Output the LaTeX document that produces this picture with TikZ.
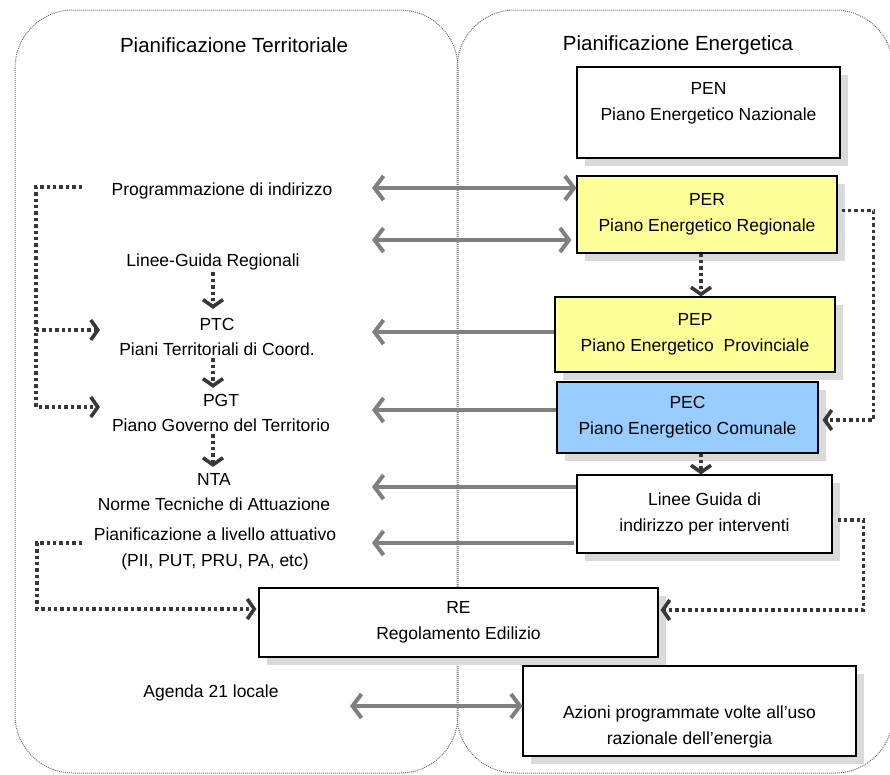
\documentclass[tikz,border=0pt]{standalone}
\usepackage{fontspec}
\setmainfont{Liberation Sans}
\usetikzlibrary{positioning,arrows.meta,calc,shadows}
\definecolor{planyellow}{HTML}{FFFF99}
\definecolor{planblue}{HTML}{99CCFF}
\definecolor{arrgray}{HTML}{808080}
\definecolor{dotgray}{HTML}{383838}
\definecolor{shadowgray}{HTML}{DADADA}
\definecolor{panelgray}{HTML}{6E6E6E}
\tikzset{
  panel/.style={
    draw=panelgray, dash pattern=on 1pt off 1pt, line width=1pt, rounded corners=58pt
  },
  paneltitle/.style={
    font=\fontsize{20.5}{24}\selectfont
  },
  lbl/.style={
    align=center, inner sep=2pt, font=\fontsize{17.5}{25.5}\selectfont
  },
  planbox/.style={
    draw=black, line width=1.1pt, fill=white, align=center,
    font=\fontsize{17.5}{26}\selectfont,
    general shadow={fill=shadowgray, shadow xshift=8pt, shadow yshift=-8pt}
  },
  flowarr/.style={
    draw=arrgray, line width=4pt, >={Straight Barb[length=9pt,width=24pt]}
  },
  dotarr/.style={
    draw=dotgray, line width=3.6pt, dash pattern=on 3.4pt off 3pt,
    -{Straight Barb[length=7pt,width=20pt]}
  }
}

\begin{document}
\begin{tikzpicture}[x=1pt,y=-1pt]
\useasboundingbox (0,0) rectangle (890,774);

% two planning areas
\draw[panel] (15,10) rectangle (458,773);
\draw[panel] (457,10) rectangle (893,773);
\node[paneltitle] (tterr) at (234,45) {Pianificazione Territoriale};
\node[paneltitle] (tener) at (678,45) {Pianificazione Energetica};

% territorial side
\node[lbl] (prog) at (222,191) {Programmazione di indirizzo};
\node[lbl] (lgr) at (213,262) {Linee-Guida Regionali};
\node[lbl] (ptc) at (217,337) {PTC\\Piani Territoriali di Coord.};
\node[lbl] (pgt) at (221,413) {PGT\\Piano Governo del Territorio};
\node[lbl] (nta) at (214,492) {NTA\\Norme Tecniche di Attuazione};
\node[lbl] (attu) at (215,549) {Pianificazione a livello attuativo\\(PII, PUT, PRU, PA, etc)};
\node[lbl] (agenda) at (211,693) {Agenda 21 locale};

% energy side
\node[planbox, minimum width=263pt, minimum height=91pt] (pen) at (708.5,112.5)
  {PEN\\Piano Energetico Nazionale\\[-12pt] \strut};
\node[planbox, fill=planyellow, minimum width=260pt, minimum height=77pt] (per) at (707,214.5)
  {PER\\Piano Energetico Regionale};
\node[planbox, fill=planyellow, minimum width=280pt, minimum height=75pt] (pep) at (695,334.5)
  {PEP\\Piano Energetico\ \ Provinciale};
\node[planbox, fill=planblue, minimum width=261pt, minimum height=71pt] (pec) at (687.5,417.5)
  {PEC\\Piano Energetico Comunale};
\node[planbox, minimum width=255pt, minimum height=78pt] (lgi) at (704.5,514)
  {Linee Guida di\\indirizzo per interventi};
\node[planbox, minimum width=399pt, minimum height=69pt] (re) at (458.5,622.5)
  {RE\\Regolamento Edilizio};
\node[planbox, minimum width=333pt, minimum height=90pt] (azi) at (689.5,711)
  {\strut\\Azioni programmate volte all’uso\\razionale dell’energia};

% free ends of the links
\coordinate (g1) at (372,188);
\coordinate (g2) at (372,240);
\coordinate (g3) at (372,332);
\coordinate (g4) at (372,410);
\coordinate (g5) at (372,487);
\coordinate (g6) at (372,543);
\coordinate (g7) at (350,706);
\coordinate (lk1) at (82,187);
\coordinate (lkb) at (36,330);
\coordinate (lk2) at (100,330);
\coordinate (lk3) at (100,407);
\coordinate (lk4) at (82,543);

\draw[flowarr,<->] (g1) -- (g1 -| per.west);
\draw[flowarr,<->,shorten >=5pt] (g2) -- (g2 -| per.west);
\draw[flowarr,->] (g3 -| pep.west) -- (g3);
\draw[flowarr,->] (g4 -| pec.west) -- (g4);
\draw[flowarr,->] (g5 -| lgi.west) -- (g5);
\draw[flowarr,->,shorten <=2pt] (g6 -| lgi.west) -- (g6);
\draw[flowarr,<->] (g7) -- (g7 -| azi.west);

\draw[dotarr] (lk1) -- ++(-46,0) |- (lk3);
\draw[dotarr] (lkb) -- (lk2);
\draw[dotarr,shorten >=7pt] (lgr.south) -- (lgr.south |- ptc.north);
\draw[dotarr,shorten >=4pt] (lgr.south |- ptc.south) -- (lgr.south |- pgt.north);
\draw[dotarr,shorten >=4pt] (lgr.south |- pgt.south) -- (lgr.south |- nta.north);
\draw[dotarr] ([xshift=-6pt]per.south) -- ([xshift=-6pt]per.south |- pep.north);
\draw[dotarr] ([xshift=13.5pt]pec.south) -- ([xshift=13.5pt]pec.south |- lgi.north);
\draw[dotarr,shorten <=4pt,shorten >=4pt] ([yshift=4pt]per.east) -- ++(36,0) |- ([yshift=-2.5pt]pec.east);
\draw[dotarr,shorten <=5pt,shorten >=2pt] ([yshift=-6pt]lgi.east) -- ++(31,0) |- ([yshift=12.5pt]re.east);
\draw[dotarr,shorten >=2pt] (lk4) -- ++(-45,0) |- ([yshift=13.5pt]re.west);
\end{tikzpicture}
\end{document}
